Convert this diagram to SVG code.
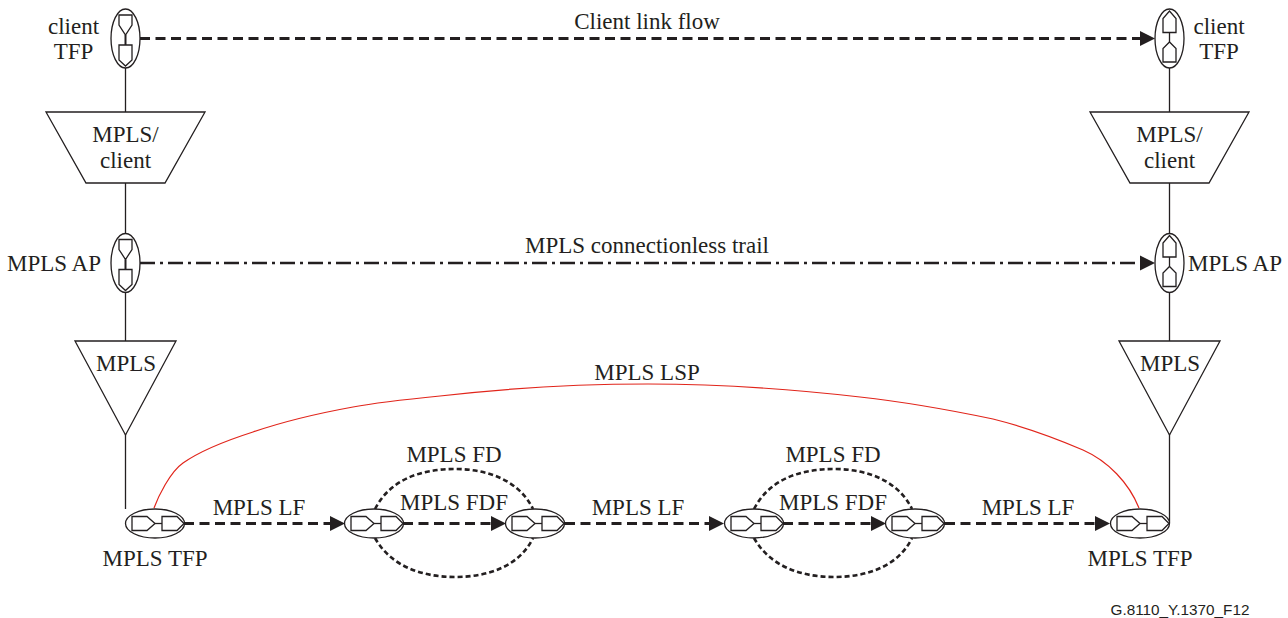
<svg xmlns="http://www.w3.org/2000/svg" width="1288" height="618" viewBox="0 0 1288 618">
<style>
text{font-family:"Liberation Serif","Times New Roman",serif;font-size:23px;fill:#231f20;text-anchor:middle}
.s{fill:none;stroke:#231f20;stroke-width:1.3}
.t{fill:#fff;stroke:#231f20;stroke-width:1.3}
.d{fill:none;stroke:#231f20;stroke-width:2.8;stroke-dasharray:10 5.500}
.o{fill:none;stroke:#231f20;stroke-width:2.600;stroke-dasharray:5 3}
.a{fill:#231f20}
</style>
<defs>
<g id="vdown">
<ellipse class="t" cx="0" cy="0" rx="14.5" ry="29.5"/>
<path class="s" d="M-6.500-23.500H6.500V-13.500L0-3.500L-6.500-13.500Z"/>
<path d="M0-3.500V6.500" fill="none" stroke="#231f20" stroke-width="2"/>
<path class="s" d="M-6.500 6.500H6.500V21.500L0 27.500L-6.500 21.500Z"/>
</g>
<g id="vup">
<ellipse class="t" cx="0" cy="0" rx="14.500" ry="29.500"/>
<path class="s" d="M-6.500-6V-20L0-27.500L6.500-20V-6Z"/>
<path class="s" d="M0-6V3.500"/>
<path class="s" d="M-6.500 23.500V10L0 3.500L6.500 10V23.500Z"/>
</g>
<g id="tfp">
<ellipse class="t" cx="0" cy="0" rx="29.500" ry="14.500"/>
<path class="s" d="M-23-7H-8L0 0L-8 7H-23Z"/>
<path class="s" d="M0 0H7"/>
<path class="s" d="M7-7H22L29 0L22 7H7Z"/>
</g>
<path id="h" class="a" d="M0 0L-15-7.500V7.500Z"/>
</defs>

<g id="connectors">
<path class="s" d="M125.500 68V509"/>
<path class="s" d="M1169.500 68V523"/>
<path class="d" d="M140 38.500H1141"/>
<use href="#h" x="1155" y="38.500"/>
<path fill="none" stroke="#231f20" stroke-width="2.600" stroke-dasharray="15 5 3 5" d="M140 263H1141"/>
<use href="#h" x="1155" y="263"/>
<path fill="none" stroke="#e1251b" stroke-width="1.200" d="M154 508C158 497 170 472 183 463C203 449 228 440 253 432C285 421 320 413 353 407C380 402 410 399 440 396C510 388 580 384 648 384C720 384 790 389 860 397C905 402 950 410 993 419C1025 427 1055 438 1083 450C1108 461 1129 483 1139 508"/>
<path class="d" d="M184 523.500H330"/>
<use href="#h" x="345" y="523.500"/>
<path class="d" d="M403 523.500H492"/>
<use href="#h" x="506" y="523.500"/>
<path class="d" d="M565 523.500H710"/>
<use href="#h" x="724" y="523.500"/>
<path class="d" d="M783 523.500H872"/>
<use href="#h" x="886" y="523.500"/>
<path class="d" d="M945 523.500H1096"/>
<use href="#h" x="1110" y="523.500"/>
<path class="o" d="M375 509C390 480 420 469 455 469C490 469 520 482 533 509"/>
<path class="o" d="M375 538C390 565 420 577 455 577C490 577 520 565 533 538"/>
<path class="o" d="M754 509C769 480 799 469 834 469C869 469 899 482 912 509"/>
<path class="o" d="M754 538C769 565 799 577 834 577C869 577 899 565 912 538"/>
</g>

<g id="client-tfp-left"><use href="#vdown" x="125.500" y="38.500"/><text x="73.500" y="34">client</text><text x="73.500" y="59">TFP</text></g>
<g id="client-tfp-right"><use href="#vup" x="1169.500" y="38.500"/><text x="1219" y="34">client</text><text x="1219" y="59">TFP</text></g>
<g id="mpls-client-left"><path class="t" d="M46 112H205L165 183H86Z"/><text x="125.500" y="142">MPLS/</text><text x="125.500" y="168">client</text></g>
<g id="mpls-client-right"><path class="t" d="M1090 112H1249L1209 183H1130Z"/><text x="1169.500" y="142">MPLS/</text><text x="1169.500" y="168">client</text></g>
<g id="mpls-ap-left"><use href="#vdown" x="125.500" y="263"/><text x="54" y="271">MPLS AP</text></g>
<g id="mpls-ap-right"><use href="#vup" x="1169.500" y="263"/><text x="1235" y="271">MPLS AP</text></g>
<g id="mpls-left"><path class="t" d="M75 341H176L125.500 435Z"/><text x="126" y="371">MPLS</text></g>
<g id="mpls-right"><path class="t" d="M1119 341H1220L1169.500 435Z"/><text x="1170" y="371">MPLS</text></g>
<g id="tfp-1"><use href="#tfp" x="155" y="523.500"/><text x="155" y="566">MPLS TFP</text></g>
<g id="tfp-2"><use href="#tfp" x="374" y="523.500"/></g>
<g id="tfp-3"><use href="#tfp" x="535" y="523.500"/></g>
<g id="tfp-4"><use href="#tfp" x="754" y="523.500"/></g>
<g id="tfp-5"><use href="#tfp" x="915" y="523.500"/></g>
<g id="tfp-6"><use href="#tfp" x="1140" y="523.500"/><text x="1140" y="566">MPLS TFP</text></g>
<g id="labels">
<text x="647" y="29">Client link flow</text>
<text x="647" y="253">MPLS connectionless trail</text>
<text x="647" y="380">MPLS LSP</text>
<text x="259" y="515">MPLS LF</text>
<text x="638" y="515">MPLS LF</text>
<text x="1028" y="515">MPLS LF</text>
<text x="454" y="462">MPLS FD</text>
<text x="833" y="462">MPLS FD</text>
<text x="454" y="510">MPLS FDF</text>
<text x="833" y="510">MPLS FDF</text>
<text x="1180" y="615" style="font-family:'Liberation Sans',Arial,sans-serif;font-size:15.300px">G.8110_Y.1370_F12</text>
</g>
</svg>
